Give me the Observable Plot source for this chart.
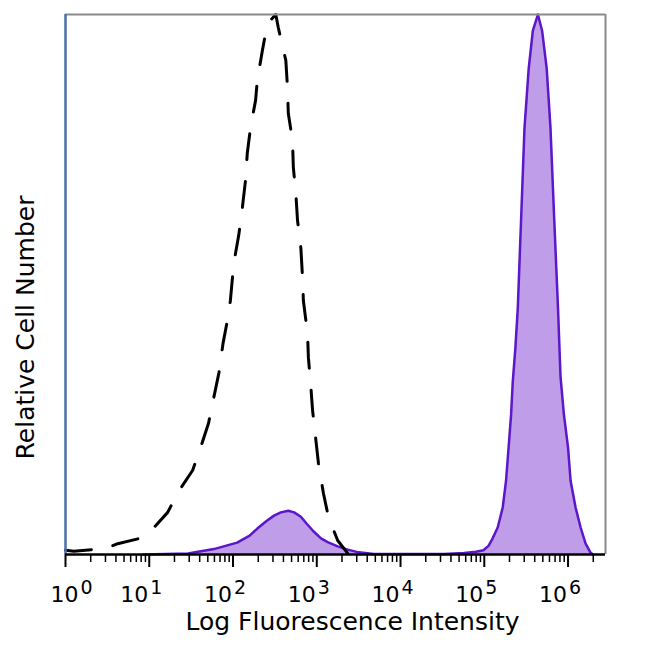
<!DOCTYPE html>
<html>
<head>
<meta charset="utf-8">
<script src="https://cdn.jsdelivr.net/npm/d3@7"></script>
<script src="https://cdn.jsdelivr.net/npm/@observablehq/plot@0.6"></script>
<style>
  html, body { margin: 0; padding: 0; background: white; }
</style>
</head>
<body>
<div id="chart"></div>
<script>
// Isotype control (dashed) — fluorescence intensity and relative count (% of max)
const isoX = [1, 1.26, 3.0, 4.2, 8.3, 10.5, 16.6, 22, 33, 41, 51, 59, 68, 76, 87, 93, 102, 117, 129, 141, 148, 162, 186, 195, 224, 257, 324, 347, 427, 447, 457, 513, 525, 562, 589, 646, 676, 692, 776, 794, 851, 891, 977, 1047, 1202, 1380, 1778, 2344];
const isoY = [0.8, 0.6, 1.1, 2.0, 3.1, 4.4, 7.8, 11.5, 15.6, 19.8, 24.3, 29.1, 33.7, 39.1, 43.9, 47.0, 53.9, 59.1, 64.1, 69.3, 74.3, 79.1, 84.1, 87.8, 93.3, 98.3, 100, 97.6, 91.5, 86.5, 81.7, 76.7, 71.7, 66.9, 61.9, 56.7, 51.3, 47.0, 40.9, 36.5, 30.9, 26.7, 21.1, 16.9, 11.3, 6.9, 2.6, 0.2];

// Stained sample (filled purple)
const stainX = [8.5, 29, 59, 112, 158, 195, 251, 309, 372, 457, 537, 646, 759, 912, 1122, 1349, 1778, 2344, 3162, 4786, 15849, 33113, 57544, 79433, 97724, 112202, 125893, 144544, 165959, 181970, 194984, 208930, 218776, 234423, 251189, 275000, 302000, 339000, 380000, 436500, 490000, 556000, 617000, 684000, 759000, 812831, 891251, 1000000, 1071519, 1230269, 1412538, 1621810, 1862087, 1995262];
const stainY = [0, 0.2, 1.0, 2.2, 3.5, 4.8, 6.2, 7.2, 7.8, 8.1, 7.8, 7.0, 5.7, 4.3, 3.0, 2.3, 1.5, 0.9, 0.4, 0.1, 0.1, 0.1, 0.3, 0.5, 0.8, 1.6, 3.0, 5.0, 8.7, 13.7, 19.8, 25.9, 32.0, 38.0, 45.6, 62.0, 79.0, 90.0, 97.0, 100, 97.0, 90.0, 79.0, 62.0, 45.6, 33.0, 26.0, 19.8, 13.7, 8.7, 5.0, 2.0, 0.3, 0];

// Axis
const xDomain = [1, 2.8e6];
const majorTicks = [1, 10, 100, 1e3, 1e4, 1e5, 1e6];
const tickBase = ["10", "10", "10", "10", "10", "10", "10"];
const tickExp = ["0", "1", "2", "3", "4", "5", "6"];
const minorTicks = [2, 3, 4, 5, 6, 7, 8, 9,
  20, 30, 40, 50, 60, 70, 80, 90,
  200, 300, 400, 500, 600, 700, 800, 900,
  2000, 3000, 4000, 5000, 6000, 7000, 8000, 9000,
  20000, 30000, 40000, 50000, 60000, 70000, 80000, 90000,
  200000, 300000, 400000, 500000, 600000, 700000, 800000, 900000,
  2000000];
const xTitle = "Log Fluorescence Intensity";
const yTitle = "Relative Cell Number";

const iso = isoX.map((x, i) => ({x, y: isoY[i]}));
const stain = stainX.map((x, i) => ({x, y: stainY[i]}));
const labels = majorTicks.map((v, i) => ({v, base: tickBase[i], exp: tickExp[i], first: i === 0}));

const baseOpts = {x: "v", text: "base", frameAnchor: "bottom", textAnchor: "end", lineAnchor: "middle", dy: 40, fontSize: 22, fill: "black"};
const expOpts = {x: "v", text: "exp", frameAnchor: "bottom", textAnchor: "start", lineAnchor: "middle", dy: 33, fontSize: 19, fill: "black"};

const chart = Plot.plot({
  width: 650,
  height: 650,
  marginLeft: 65,
  marginRight: 45,
  marginTop: 14,
  marginBottom: 96,
  style: {fontFamily: "DejaVu Sans", background: "white", color: "black"},
  x: {type: "log", domain: xDomain},
  y: {domain: [0, 100], axis: null},
  marks: [
    Plot.areaY(stain, {x: "x", y: "y", fill: "#bf9de8", curve: "linear"}),
    Plot.lineY(stain, {x: "x", y: "y", stroke: "#5b17c9", strokeWidth: 2.5, curve: "linear"}),
    Plot.lineY(iso, {x: "x", y: "y", stroke: "black", strokeWidth: 3, strokeDasharray: "26,22", curve: "linear"}),
    Plot.ruleY([100], {stroke: "#8a8a8a", strokeWidth: 2}),
    Plot.ruleX([xDomain[1]], {stroke: "#8a8a8a", strokeWidth: 2}),
    Plot.ruleX([xDomain[0]], {stroke: "#4d6fa3", strokeWidth: 2.5}),
    Plot.ruleY([0], {stroke: "black", strokeWidth: 2.5}),
    Plot.axisX({ticks: majorTicks, tickSize: 13, tickFormat: () => "", strokeWidth: 2, label: null}),
    Plot.axisX({ticks: minorTicks, tickSize: 8, tickFormat: () => "", strokeWidth: 1.5, label: null}),
    Plot.text(labels, {...baseOpts, filter: d => !d.first, dx: -1}),
    Plot.text(labels, {...expOpts, filter: d => !d.first, dx: 1}),
    Plot.text(labels, {...baseOpts, filter: d => d.first, dx: 13}),
    Plot.text(labels, {...expOpts, filter: d => d.first, dx: 15}),
    Plot.text([xTitle], {text: d => d, frameAnchor: "bottom", textAnchor: "middle", lineAnchor: "middle", dx: 17, dy: 67, fontSize: 25, fill: "black"}),
    Plot.text([yTitle], {text: d => d, frameAnchor: "left", textAnchor: "middle", lineAnchor: "middle", rotate: -90, dx: -40, dy: 43, fontSize: 25, fill: "black"})
  ]
});
document.getElementById("chart").appendChild(chart);
</script>
</body>
</html>
